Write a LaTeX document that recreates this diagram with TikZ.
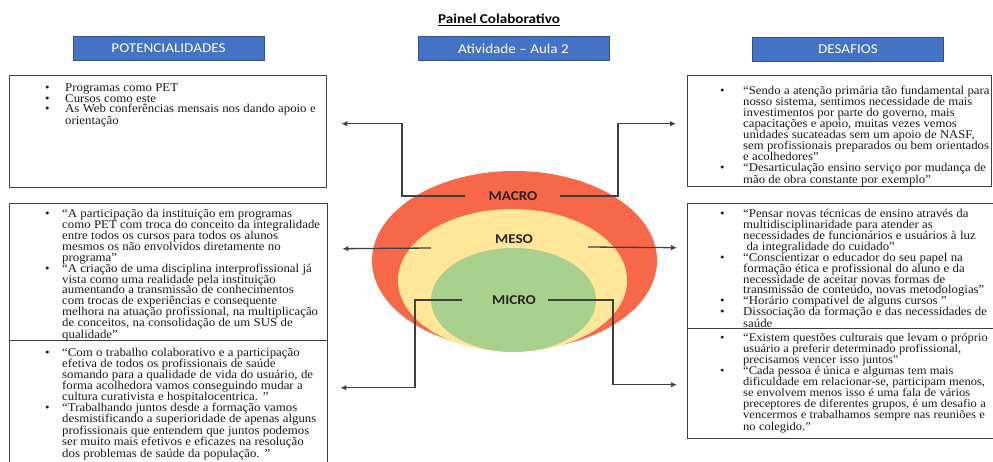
\documentclass[tikz,border=0pt]{standalone}
\usepackage{fontspec}
\setmainfont{Liberation Serif}
\newfontfamily\boxfont[FakeStretch=1.07]{Liberation Serif}
\newfontfamily\hdfont[FakeStretch=1.12]{Carlito}
\usetikzlibrary{arrows.meta}
\definecolor{redE}{RGB}{247,104,72}
\definecolor{yelE}{RGB}{255,230,153}
\definecolor{grnE}{RGB}{169,209,142}
\definecolor{hdblue}{RGB}{68,114,196}
\definecolor{hdborder}{RGB}{47,82,143}
\definecolor{lineC}{RGB}{64,64,64}
\definecolor{labC}{RGB}{45,35,35}
\definecolor{txtC}{RGB}{25,25,25}
\newlength\bind \newlength\btw
\newcommand\BJ[1]{\par\noindent\makebox[\bind][l]{\textbullet}\makebox[\btw][s]{#1}}
\newcommand\BR[1]{\par\noindent\makebox[\bind][l]{\textbullet}#1}
\newcommand\LJ[1]{\par\noindent\hspace*{\bind}\makebox[\btw][s]{#1}}
\newcommand\LR[1]{\par\noindent\hspace*{\bind}#1}
\tikzset{
  hdbox/.style={draw=hdborder, line width=0.8pt, fill=hdblue, text=white, font=\hdfont\fontsize{13.5}{14}\selectfont, minimum width=191pt, minimum height=24pt, inner sep=0pt},
  panel/.style={draw=lineC, line width=1.4pt, anchor=north west, inner sep=0pt},
  paneltext/.style={anchor=north west, inner sep=0pt, text width=300pt, align=left, text=txtC},
  lvl/.style={font=\hdfont\bfseries\fontsize{13.5}{14}\selectfont, text=labC, inner sep=0pt},
  conn/.style={draw=lineC, line width=1.3pt},
  arr/.style={conn, -{Latex[length=6pt,width=5.5pt]}}
}
\newcommand\pfont[2]{\boxfont\fontsize{#1}{#2}\selectfont\lineskiplimit=-20pt\lineskip=0pt}
\begin{document}
\begin{tikzpicture}[x=1pt,y=-1pt]
\useasboundingbox (0,0) rectangle (993,461);
% title and headers
\node[font=\hdfont\bfseries\fontsize{13.5}{14}\selectfont, inner sep=0pt] (title) at (499,20) {\underline{Painel Colaborativo}};
\node[hdbox] (pot) at (168.5,48) {POTENCIALIDADES};
\node[hdbox] (ativ) at (513.5,48.5) {Atividade – Aula 2};
\node[hdbox] (des) at (848,49.5) {DESAFIOS};
% ellipses
\fill[redE] (514.5,260.5) ellipse (142.5pt and 89.5pt);
\fill[yelE] (512.5,280.5) ellipse (114.5pt and 71.5pt);
\fill[grnE] (513.5,300) ellipse (82.5pt and 52pt);
\node[lvl] (macro) at (513,196) {MACRO};
\node[lvl] (meso) at (514,239) {MESO};
\node[lvl] (micro) at (514,300) {MICRO};
% panels
\node[panel, minimum width=317pt, minimum height=112.5pt] (lb1) at (9,74.5) {};
\node[panel, minimum width=318pt, minimum height=137pt] (lb2) at (9,203) {};
\node[panel, minimum width=318pt, minimum height=140pt] (lb3) at (9,340) {};
\node[panel, minimum width=304pt, minimum height=111pt] (rb1) at (687,75) {};
\node[panel, minimum width=320pt, minimum height=125pt] (rb2) at (687,203) {};
\node[panel, minimum width=320pt, minimum height=110pt] (rb3) at (687,328) {};
% panel texts
\node[paneltext] (lt1) at (45,80.5) {\pfont{12}{10.7}\setlength\bind{20pt}\setlength\btw{255pt}%
\BR{Programas como PET}
\BR{Cursos como este}
\BR{As Web conferências mensais nos dando apoio e}
\LR{orientação}};
\node[paneltext] (lt2) at (45,206.5) {\pfont{12}{10.9}\setlength\bind{17pt}\setlength\btw{253pt}%
\BJ{“A participação da instituição em programas}
\LJ{como PET com troca do conceito da integralidade}
\LJ{entre todos os cursos para todos os alunos}
\LJ{mesmos os não envolvidos diretamente no}
\LR{programa”}
\BJ{“A criação de uma disciplina interprofissional já}
\LJ{vista como uma realidade pela instituição}
\LJ{aumentando a transmissão de conhecimentos}
\LJ{com trocas de experiências e consequente}
\LJ{melhora na atuação profissional, na multiplicação}
\LJ{de conceitos, na consolidação de um SUS de}
\LR{qualidade”}};
\node[paneltext] (lt3) at (45,345) {\pfont{12}{11.1}\setlength\bind{17pt}\setlength\btw{260pt}%
\BJ{“Com o trabalho colaborativo e a participação}
\LJ{efetiva de todos os profissionais de saúde}
\LJ{somando para a qualidade de vida do usuário, de}
\LJ{forma acolhedora vamos conseguindo mudar a}
\LR{cultura curativista e hospitalocentrica. ”}
\BJ{“Trabalhando juntos desde a formação vamos}
\LJ{desmistificando a superioridade de apenas alguns}
\LJ{profissionais que entendem que juntos podemos}
\LJ{ser muito mais efetivos e eficazes na resolução}
\LR{dos problemas de saúde da população. ”}};
\node[paneltext] (rt1) at (720,83) {\pfont{11.9}{11}\setlength\bind{23pt}\setlength\btw{255pt}%
\BR{“Sendo a atenção primária tão fundamental para}
\LR{nosso sistema, sentimos necessidade de mais}
\LR{investimentos por parte do governo, mais}
\LR{capacitações e apoio, muitas vezes vemos}
\LR{unidades sucateadas sem um apoio de NASF,}
\LR{sem profissionais preparados ou bem orientados}
\LR{e acolhedores”}
\BR{“Desarticulação ensino serviço por mudança de}
\LR{mão de obra constante por exemplo”}};
\node[paneltext] (rt2) at (720,206.5) {\pfont{12}{10.9}\setlength\bind{23pt}\setlength\btw{256pt}%
\BJ{“Pensar novas técnicas de ensino através da}
\LJ{multidisciplinaridade para atender as}
\LR{necessidades de funcionários e usuários à luz}
\LR{\ da integralidade do cuidado”}
\BJ{“Conscientizar o educador do seu papel na}
\LJ{formação ética e profissional do aluno e da}
\LJ{necessidade de aceitar novas formas de}
\LR{transmissão de conteúdo, novas metodologias”}
\BR{“Horário compatível de alguns cursos ”}
\BJ{Dissociação da formação e das necessidades de}
\LR{saúde}};
\node[paneltext] (rt3) at (720,330) {\pfont{11.7}{11}\setlength\bind{23pt}\setlength\btw{256pt}%
\BR{“Existem questões culturais que levam o próprio}
\LR{usuário a preferir determinado profissional,}
\LR{precisamos vencer isso juntos”}
\BJ{“Cada pessoa é única e algumas tem mais}
\LJ{dificuldade em relacionar-se, participam menos,}
\LJ{se envolvem menos isso é uma fala de vários}
\LJ{preceptores de diferentes grupos, é um desafio a}
\LJ{vencermos e trabalhamos sempre nas reuniões e}
\LR{no colegido.”}};
% connectors
\draw[arr] ([xshift=-48pt]macro.center) -- ++(-63,0) |- ([xshift=14pt,yshift=7.75pt]lb1.east);
\draw[arr] ([xshift=47pt]macro.center) -- ++(58,0) |- ([xshift=-11pt,yshift=7.5pt]rb1.west);
\draw[arr] ([xshift=-83pt,yshift=-9pt]meso.center) -- ([xshift=14pt,yshift=23.5pt]lb2.east);
\draw[arr] ([xshift=74pt,yshift=-8pt]meso.center) -- ([xshift=-10pt,yshift=18.5pt]rb2.west);
\draw[arr] ([xshift=-52pt]micro.center) -- ++(-47,0) |- ([xshift=12pt,yshift=23pt]lb3.east);
\draw[arr] ([xshift=34pt]micro.center) -- ++(65,0) |- ([xshift=-10pt,yshift=-1pt]rb3.west);
\end{tikzpicture}
\end{document}
